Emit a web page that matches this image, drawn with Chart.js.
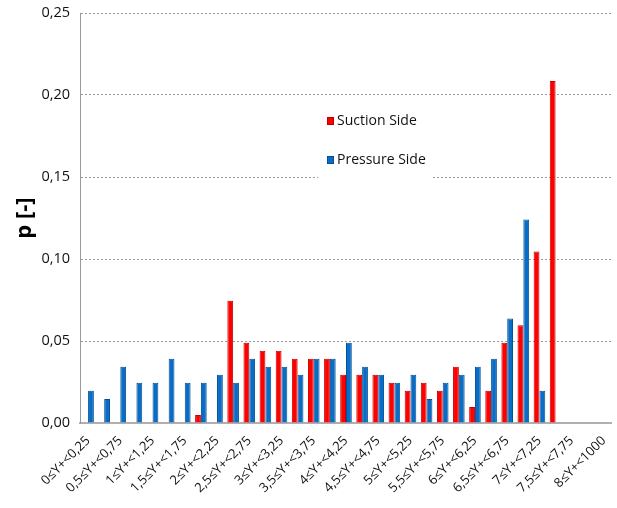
<!DOCTYPE html>
<html>
<head>
<meta charset="utf-8">
<script src="https://cdn.jsdelivr.net/npm/chart.js@4"></script>
<style>
  html, body { margin: 0; padding: 0; background: #fff; }
  #wrap { width: 617px; height: 508px; }
</style>
</head>
<body>
<div id="wrap"><canvas id="chart" width="617" height="508"></canvas></div>
<script>
// classi di Y+
const categories = [
  '0≤Y+<0,25', '0,25≤Y+<0,5', '0,5≤Y+<0,75', '0,75≤Y+<1', '1≤Y+<1,25', '1,25≤Y+<1,5',
  '1,5≤Y+<1,75', '1,75≤Y+<2', '2≤Y+<2,25', '2,25≤Y+<2,5', '2,5≤Y+<2,75', '2,75≤Y+<3',
  '3≤Y+<3,25', '3,25≤Y+<3,5', '3,5≤Y+<3,75', '3,75≤Y+<4', '4≤Y+<4,25', '4,25≤Y+<4,5',
  '4,5≤Y+<4,75', '4,75≤Y+<5', '5≤Y+<5,25', '5,25≤Y+<5,5', '5,5≤Y+<5,75', '5,75≤Y+<6',
  '6≤Y+<6,25', '6,25≤Y+<6,5', '6,5≤Y+<6,75', '6,75≤Y+<7', '7≤Y+<7,25', '7,25≤Y+<7,5',
  '7,5≤Y+<7,75', '7,75≤Y+<8', '8≤Y+<1000'
];

const suctionSide = [
  0, 0, 0, 0, 0, 0, 0, 0.0049, 0, 0.0745, 0.049, 0.0441,
  0.0441, 0.0392, 0.0392, 0.0392, 0.0294, 0.0294, 0.0294, 0.0245, 0.0196, 0.0245, 0.0196, 0.0343,
  0.0098, 0.0196, 0.049, 0.0596, 0.1045, 0.2085, 0, 0, 0
];

const pressureSide = [
  0.0196, 0.0147, 0.0343, 0.0245, 0.0245, 0.0392, 0.0245, 0.0245, 0.0294, 0.0245, 0.0392, 0.0343,
  0.0343, 0.0294, 0.0392, 0.0392, 0.049, 0.0343, 0.0294, 0.0245, 0.0294, 0.0147, 0.0245, 0.0294,
  0.0343, 0.0392, 0.0637, 0.1241, 0.0196, 0, 0, 0, 0
];

const yTicks = [0, 0.05, 0.10, 0.15, 0.20, 0.25];

const FONT = '"Open Sans", "Noto Sans", sans-serif';

// legenda disegnata dentro l'area del grafico
const innerLegend = {
  id: 'innerLegend',
  afterDatasetsDraw(chart) {
    const { ctx, chartArea } = chart;
    const x0 = chartArea.left + 238;
    const y0 = chartArea.top + 88;
    ctx.save();
    ctx.fillStyle = '#fff';
    ctx.fillRect(x0, y0, 113, 78);
    const items = [
      { text: 'Suction Side', fill: '#ff0000', edge: '#c00000', y: y0 + 20 },
      { text: 'Pressure Side', fill: '#0a6cc4', edge: '#004f94', y: y0 + 59 }
    ];
    ctx.font = '14px ' + FONT;
    ctx.textBaseline = 'middle';
    items.forEach(it => {
      ctx.fillStyle = it.fill;
      ctx.fillRect(x0 + 9, it.y - 4, 7, 8);
      ctx.strokeStyle = it.edge;
      ctx.lineWidth = 1;
      ctx.strokeRect(x0 + 9.5, it.y - 3.5, 6, 7);
      ctx.fillStyle = '#111';
      ctx.fillText(it.text, x0 + 19, it.y);
    });
    ctx.restore();
  }
};

new Chart(document.getElementById('chart'), {
  type: 'bar',
  data: {
    labels: categories,
    datasets: [
      {
        label: 'Suction Side',
        data: suctionSide,
        backgroundColor: '#ff0000',
        borderColor: '#c40000',
        borderWidth: 1,
        categoryPercentage: 0.72,
        barPercentage: 1.0
      },
      {
        label: 'Pressure Side',
        data: pressureSide,
        backgroundColor: '#0a6cc4',
        borderColor: '#00559c',
        borderWidth: 1,
        categoryPercentage: 0.72,
        barPercentage: 1.0
      }
    ]
  },
  options: {
    responsive: false,
    animation: false,
    layout: { padding: { top: 13, right: 2, left: 0, bottom: 0 } },
    plugins: {
      legend: { display: false },
      tooltip: { enabled: false }
    },
    scales: {
      x: {
        grid: { display: false },
        border: { color: '#b0b0b0', width: 2 },
        ticks: {
          autoSkip: false,
          minRotation: 45,
          maxRotation: 45,
          padding: 2,
          color: '#111',
          font: { family: FONT, size: 13 },
          callback: (v, i) => (i % 2 === 0 ? categories[i] : '')
        },
        afterFit: axis => { axis.height = 85; }
      },
      y: {
        min: 0,
        max: 0.25,
        afterBuildTicks: axis => { axis.ticks = yTicks.map(v => ({ value: v })); },
        grid: { color: '#9a9a9a', drawTicks: false },
        border: { color: '#9a9a9a', dash: [2, 2] },
        ticks: {
          padding: 10,
          color: '#111',
          font: { family: FONT, size: 14.5 },
          callback: v => v.toFixed(2).replace('.', ',')
        },
        title: {
          display: true,
          text: 'p [-]',
          color: '#000',
          padding: { top: 12, bottom: 0 },
          font: { family: FONT, size: 22, weight: 'bold' }
        },
        afterFit: axis => {
          axis.width = 80;
          axis.paddingTop = 0;
          axis.paddingBottom = 0;
        }
      }
    }
  },
  plugins: [innerLegend]
});
</script>
</body>
</html>
